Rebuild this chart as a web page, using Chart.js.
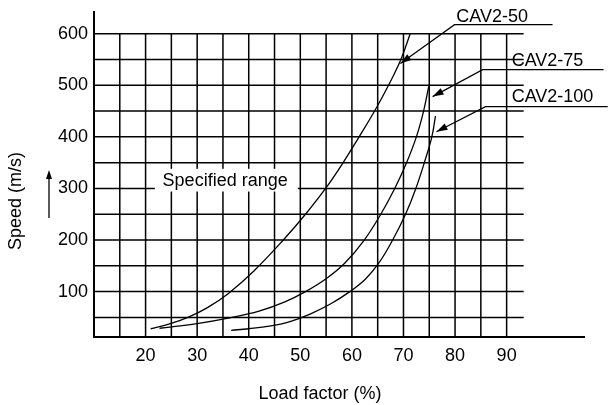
<!DOCTYPE html>
<html lang="en">
<head>
<meta charset="UTF-8" />
<title>CAV2 speed vs load factor</title>
<style>
  html, body { margin: 0; padding: 0; background: #fff; }
  #wrap { width: 608px; height: 405px; }
</style>
</head>
<body>
<div id="wrap"><canvas id="myChart" width="608" height="405"></canvas></div>

<script src="https://cdn.jsdelivr.net/npm/chart.js@4.4.0/dist/chart.umd.min.js"></script>
<script>
// curves: load factor (%) and speed (m/s)
var seriesNames = ["CAV2-50", "CAV2-75", "CAV2-100"];

var cav50Load  = [21, 24.5, 28.2, 32, 36, 41, 46.7, 51, 54.9, 58.3, 61.4, 64.4, 67.1, 69.5, 71.3];
var cav50Speed = [28, 37, 50, 69, 96, 140, 200, 250, 300, 350, 400, 450, 500, 550, 600];

var cav75Load  = [22.7, 30, 36.3, 42, 47, 51, 55, 58.6, 62.4, 65.6, 68.3, 70.6, 72.5, 73.9, 74.9];
var cav75Speed = [29, 38, 49, 62, 80, 100, 125, 155, 200, 250, 300, 350, 400, 450, 498];

var cav100Load  = [36.6, 40, 44, 48, 52, 56, 59.6, 62.6, 65.2, 67.9, 70.4, 72.4, 74.2, 75.5, 76.2];
var cav100Speed = [25, 28, 33, 42, 57, 77, 100, 124, 155, 200, 250, 300, 355, 400, 440];

var xTickLabels = [20, 30, 40, 50, 60, 70, 80, 90];
var yTickLabels = [100, 200, 300, 400, 500, 600];
var gridLoads = [15, 20, 25, 30, 35, 40, 45, 50, 55, 60, 65, 70, 75, 80, 85, 90];
var gridSpeeds = [50, 100, 150, 200, 250, 300, 350, 400, 450, 500, 550, 600];

var FONT = "18px 'Liberation Sans', Arial, sans-serif";

function pts(xs, ys) {
	return xs.map(function (x, i) { return { x: x, y: ys[i] }; });
}

function arrowHead(ctx, x1, y1, x2, y2, len, half) {
	var a = Math.atan2(y2 - y1, x2 - x1);
	ctx.beginPath();
	ctx.moveTo(x2, y2);
	ctx.lineTo(x2 - len * Math.cos(a) + half * Math.sin(a), y2 - len * Math.sin(a) - half * Math.cos(a));
	ctx.lineTo(x2 - len * Math.cos(a) - half * Math.sin(a), y2 - len * Math.sin(a) + half * Math.cos(a));
	ctx.closePath();
	ctx.fill();
}

// callouts in data units (load, speed)
var callouts = [
	{ tip: [69.4, 542], elbow: [79.9, 617.4], end: [98.9, 617.4], text: [80.25, 622] },
	{ tip: [75.65, 478], elbow: [85.35, 530.2], end: [108.8, 530.2], text: [90.97, 538] },
	{ tip: [76.4, 410], elbow: [85.9, 458.5], end: [109.6, 458.5], text: [90.97, 468.2] }
];

var paperPlugin = {
	id: "paper",
	beforeDatasetsDraw: function (chart) {
		var ctx = chart.ctx, xs = chart.scales.x, ys = chart.scales.y;
		var xL = xs.getPixelForValue(xs.min), xR = xs.getPixelForValue(93.3);
		var yB = ys.getPixelForValue(ys.min), yT = ys.getPixelForValue(600);
		ctx.save();
		ctx.strokeStyle = "#000";
		ctx.lineWidth = 1.5;
		ctx.beginPath();
		gridSpeeds.forEach(function (v) {
			var y = ys.getPixelForValue(v);
			ctx.moveTo(xL, y); ctx.lineTo(xR, y);
		});
		gridLoads.forEach(function (v) {
			var x = xs.getPixelForValue(v);
			ctx.moveTo(x, yB); ctx.lineTo(x, yT);
		});
		ctx.stroke();

		// "Specified range" label sits on a white patch over the grid
		var bx1 = xs.getPixelForValue(21.8), bx2 = xs.getPixelForValue(49.5);
		var by1 = ys.getPixelForValue(338), by2 = ys.getPixelForValue(294);
		ctx.fillStyle = "#fff";
		ctx.fillRect(bx1, by1, bx2 - bx1, by2 - by1);
		ctx.fillStyle = "#000";
		ctx.font = FONT;
		ctx.textAlign = "left";
		ctx.textBaseline = "alphabetic";
		ctx.fillText("Specified range", xs.getPixelForValue(23.3), ys.getPixelForValue(304));
		ctx.restore();
	},
	afterDraw: function (chart) {
		var ctx = chart.ctx, xs = chart.scales.x, ys = chart.scales.y;
		ctx.save();
		ctx.strokeStyle = "#000";
		ctx.fillStyle = "#000";
		ctx.lineWidth = 1.2;
		ctx.font = FONT;
		ctx.textBaseline = "alphabetic";
		ctx.textAlign = "left";
		callouts.forEach(function (c, i) {
			var tx = xs.getPixelForValue(c.tip[0]), ty = ys.getPixelForValue(c.tip[1]);
			var ex = xs.getPixelForValue(c.elbow[0]), ey = ys.getPixelForValue(c.elbow[1]);
			var nx = xs.getPixelForValue(c.end[0]);
			ctx.beginPath();
			ctx.moveTo(nx, ey);
			ctx.lineTo(ex, ey);
			ctx.lineTo(tx, ty);
			ctx.stroke();
			arrowHead(ctx, ex, ey, tx, ty, 11, 3.5);
			ctx.fillText(seriesNames[i], xs.getPixelForValue(c.text[0]), ys.getPixelForValue(c.text[1]));
		});

		// axis titles
		ctx.textAlign = "center";
		ctx.fillText("Load factor (%)", 320, 399);
		ctx.save();
		ctx.translate(21, 201);
		ctx.rotate(-Math.PI / 2);
		ctx.fillText("Speed (m/s)", 0, 0);
		ctx.restore();

		// little up arrow next to the speed title
		ctx.lineWidth = 1.3;
		ctx.beginPath();
		ctx.moveTo(49, 218);
		ctx.lineTo(49, 176);
		ctx.stroke();
		arrowHead(ctx, 49, 218, 49, 170, 9, 3);
		ctx.restore();
	}
};

var lineStyle = {
	borderColor: "#000",
	borderWidth: 1.3,
	pointRadius: 0,
	showLine: true,
	fill: false,
	tension: 0.4
};

var ctx = document.getElementById("myChart").getContext("2d");
var chart = new Chart(ctx, {
	type: "scatter",
	data: {
		datasets: [
			Object.assign({ label: seriesNames[0], data: pts(cav50Load, cav50Speed) }, lineStyle),
			Object.assign({ label: seriesNames[1], data: pts(cav75Load, cav75Speed) }, lineStyle),
			Object.assign({ label: seriesNames[2], data: pts(cav100Load, cav100Speed) }, lineStyle)
		]
	},
	options: {
		responsive: false,
		devicePixelRatio: 1,
		animation: false,
		layout: { padding: { left: 0, right: 24, top: 12, bottom: 0 } },
		plugins: {
			legend: { display: false },
			tooltip: { enabled: false }
		},
		scales: {
			x: {
				type: "linear",
				min: 10,
				max: 105,
				grid: { display: false, drawTicks: false },
				border: { display: true, color: "#000", width: 2 },
				ticks: { color: "#000", font: { family: "'Liberation Sans', Arial, sans-serif", size: 18 }, padding: 8, maxRotation: 0 },
				afterBuildTicks: function (scale) {
					scale.ticks = xTickLabels.map(function (v) { return { value: v }; });
				},
				afterFit: function (scale) {
					scale.height = 68;
					scale.paddingLeft = 0;
					scale.paddingRight = 0;
				}
			},
			y: {
				type: "linear",
				min: 12,
				max: 642,
				grid: { display: false, drawTicks: false },
				border: { display: true, color: "#000", width: 2 },
				ticks: { color: "#000", font: { family: "'Liberation Sans', Arial, sans-serif", size: 18 }, padding: 6 },
				afterBuildTicks: function (scale) {
					scale.ticks = yTickLabels.map(function (v) { return { value: v }; });
				},
				afterFit: function (scale) {
					scale.width = 94;
					scale.paddingTop = 0;
					scale.paddingBottom = 0;
				}
			}
		}
	},
	plugins: [paperPlugin]
});
</script>
</body>
</html>
